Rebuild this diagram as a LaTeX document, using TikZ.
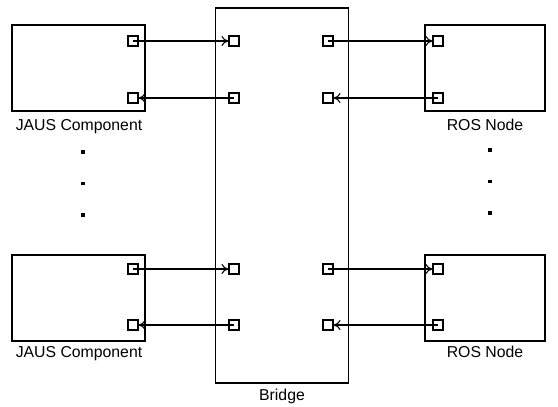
\documentclass[tikz,border=0pt]{standalone}
\usepackage{fontspec}
\setmainfont{Liberation Sans}
\usetikzlibrary{arrows.meta}
\begin{document}
\begin{tikzpicture}[x=1pt,y=-1pt,
  box/.style={draw,line width=1.1pt,inner sep=0pt},
  port/.style={draw,line width=1.1pt,minimum size=10pt,inner sep=0pt},
  lbl/.style={font=\fontsize{15.8}{18}\selectfont,inner sep=0pt,anchor=base},
  conn/.style={line width=1.1pt,-{To[length=7pt,width=10pt,line width=1.1pt]}},
  dotm/.style={fill,minimum size=3.2pt,inner sep=0pt}]
\useasboundingbox (0,0) rectangle (558,407);
% bridge
\node[box,minimum width=133pt,minimum height=375pt] (br) at (282,195.5) {};
\node[lbl] (brl) at (282,400) {Bridge};
% left boxes
\node[box,minimum width=133pt,minimum height=86pt] (j1) at (78.5,68) {};
\node[box,minimum width=133pt,minimum height=86pt] (j2) at (78.5,298) {};
\node[lbl] (j1l) at (79,130) {JAUS Component};
\node[lbl] (j2l) at (79,357) {JAUS Component};
% right boxes
\node[box,minimum width=120pt,minimum height=86pt] (r1) at (485,68) {};
\node[box,minimum width=120pt,minimum height=86pt] (r2) at (485,298) {};
\node[lbl] (r1l) at (485,130) {ROS Node};
\node[lbl] (r2l) at (485,357) {ROS Node};
% dots
\node[dotm] (d1) at (83,152) {};
\node[dotm] (d2) at (83,183.5) {};
\node[dotm] (d3) at (83,215) {};
\node[dotm] (d4) at (490,150) {};
\node[dotm] (d5) at (490,181.5) {};
\node[dotm] (d6) at (490,213) {};
% ports
\foreach \r/\y in {a/41,b/98,c/269,d/325}{
  \node[port] (jp\r) at (133,\y) {};
  \node[port] (bl\r) at (234,\y) {};
  \node[port] (brp\r) at (328,\y) {};
  \node[port] (rp\r) at (438,\y) {};
}
% connectors
\foreach \r in {a,c}{
  \draw[conn] (jp\r.center) -- (bl\r.west);
  \draw[conn] (brp\r.center) -- (rp\r.west);
}
\foreach \r in {b,d}{
  \draw[conn] (bl\r.center) -- (jp\r.east);
  \draw[conn] (rp\r.center) -- (brp\r.east);
}
\end{tikzpicture}
\end{document}
